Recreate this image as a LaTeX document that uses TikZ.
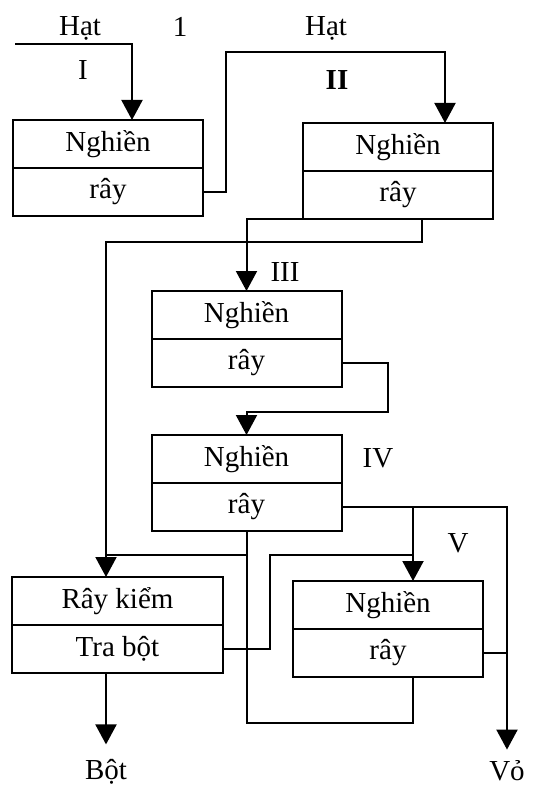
\documentclass[tikz,border=0pt]{standalone}
\usepackage{fontspec}
\setmainfont{Liberation Serif}
\usetikzlibrary{arrows.meta, positioning}
\tikzset{
    >={Triangle[length=10pt, width=10.5pt]},
    font=\fontsize{14.5}{17}\selectfont,
    mill_half/.style={
        rectangle,
        draw,
        line width=1pt,
        minimum width=95pt,
        minimum height=24pt,
        inner sep=0pt,
        outer sep=0pt,
        align=center
    },
    sieve_half/.style={
        mill_half,
        minimum width=105.5pt
    },
    flow_line/.style={
        line width=1pt
    },
    flow_arrow/.style={
        ->,
        line width=1pt
    },
    stage_label/.style={
        inner sep=0pt
    },
    end_label/.style={
        inner sep=0pt,
        anchor=base
    }
}

\begin{document}
\begin{tikzpicture}[x=0.5pt, y=-0.5pt]
\useasboundingbox (0,0) rectangle (535,786);

% --- Mills ---
\node[mill_half] (I1) at (108,144) {Nghiền};
\node[mill_half, below=0pt of I1] (I2) {rây};
\node[mill_half] (II1) at (398,147) {Nghiền};
\node[mill_half, below=0pt of II1] (II2) {rây};
\node[mill_half] (III1) at (246.5,315) {Nghiền};
\node[mill_half, below=0pt of III1] (III2) {rây};
\node[mill_half] (IV1) at (246.5,459) {Nghiền};
\node[mill_half, below=0pt of IV1] (IV2) {rây};
\node[mill_half] (V1) at (388,605) {Nghiền};
\node[mill_half, below=0pt of V1] (V2) {rây};

% --- Control sieve ---
\node[sieve_half] (RK1) at (117.5,601) {Rây kiểm};
\node[sieve_half, below=0pt of RK1] (RK2) {Tra bột};

% --- Labels ---
\node[stage_label] (hatI) at (80,28) {Hạt};
\node[stage_label] (one) at (180,27) {1};
\node[stage_label] (stI) at (83,70) {I};
\node[stage_label] (hatII) at (326,28) {Hạt};
\node[stage_label] (stII) at (337,80) {\textbf{II}};
\node[stage_label] (stIII) at (285,272) {III};
\node[stage_label] (stIV) at (378,458) {IV};
\node[stage_label] (stV) at (458,543) {V};
\node[end_label] (Bot) at (106,779) {Bột};
\node[end_label] (Vo) at (507,780) {Vỏ};

% --- Bends ---
\coordinate (feedI) at (15,44);
\coordinate (upI) at (226,52);
\coordinate (backII) at (106,242);
\coordinate (backIII) at (388,412);
\coordinate (splitIV) at (413,507);
\coordinate (upRK) at (270,555);
\coordinate (loopV) at (413,723);

% --- Edges ---
\draw[flow_arrow] (feedI) -| ([xshift=12pt]I1.north);
\draw[flow_arrow] (I2.east) -| (upI) -| ([xshift=23.5pt]II1.north);
\draw[flow_arrow] (II2.south west) -| (III1.north);
\draw[flow_arrow] ([xshift=12pt]II2.south) |- (backII) -- (backII |- RK1.north);
\draw[flow_arrow] (III2.east) -| (backIII) -| (IV1.north);
\draw[flow_arrow, shorten >=5pt] (IV2.east) -| (Vo.north);
\draw[flow_arrow] (splitIV) -- (splitIV |- V1.north);
\draw[flow_line] (RK2.east) -| (upRK) -- (upRK -| splitIV);
\draw[flow_line] (V2.east) -- (V2.east -| Vo.north);
\draw[flow_line] (IV2.south) |- (loopV) -- (loopV |- V2.south);
\draw[flow_line] (IV2.south |- upRK) -- (backII |- upRK);
\draw[flow_arrow, shorten >=7pt] (backII |- RK2.south) -- (Bot.north);

\end{tikzpicture}
\end{document}
